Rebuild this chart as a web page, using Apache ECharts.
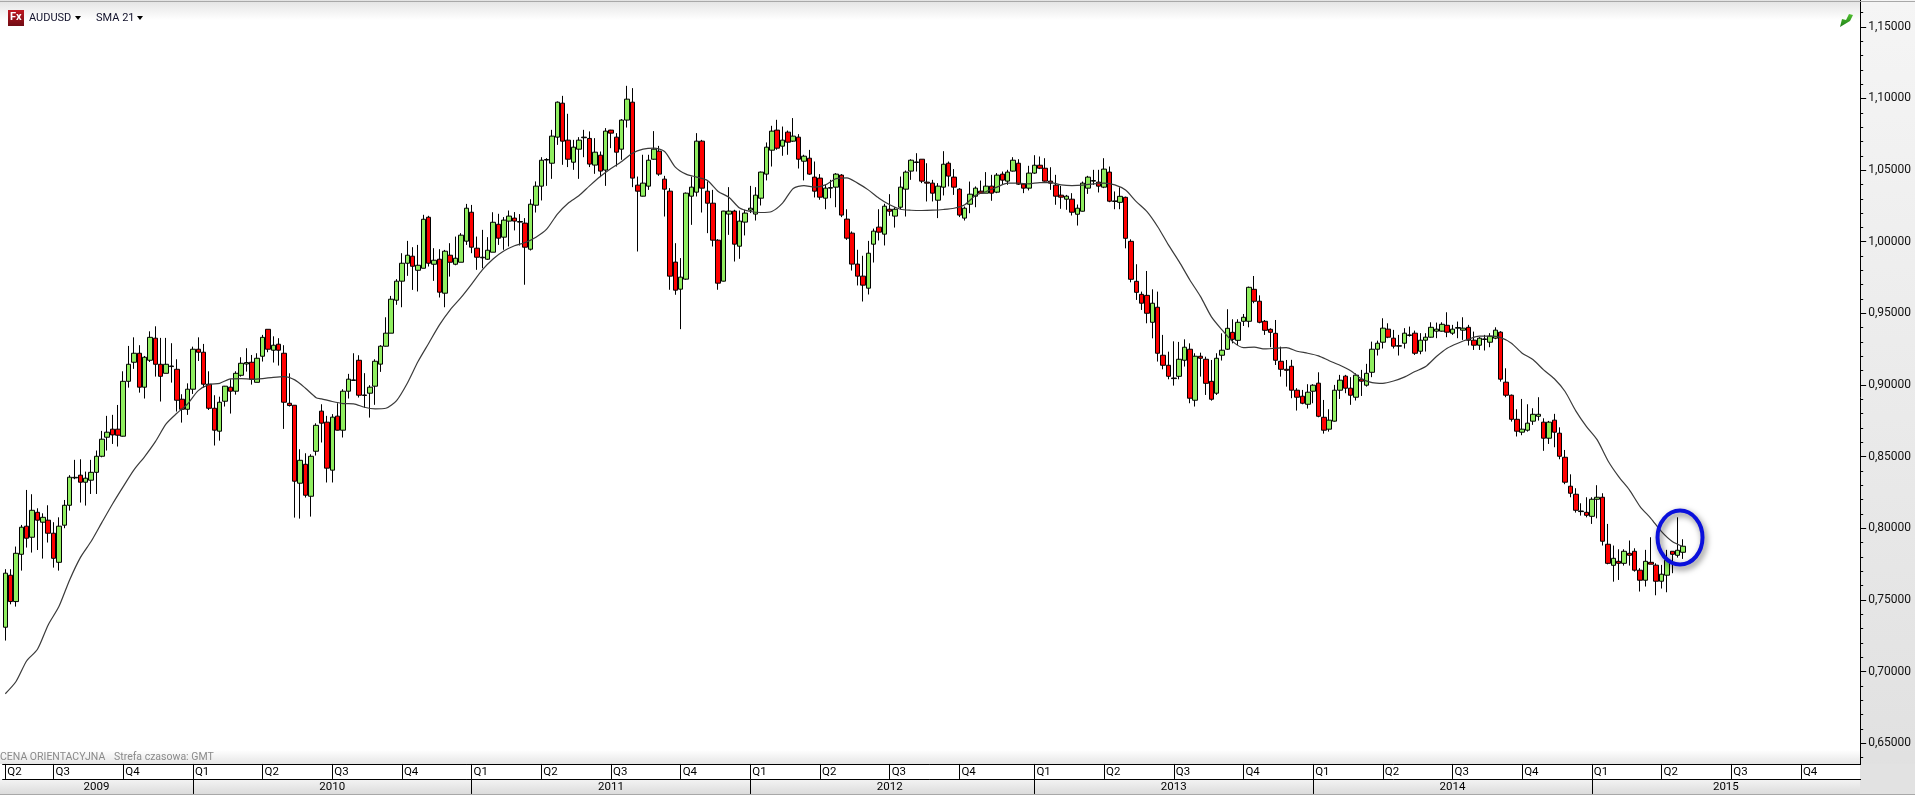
<!DOCTYPE html>
<html><head><meta charset="utf-8">
<style>html,body{margin:0;padding:0;background:#fff}#c{width:1915px;height:795px}</style>
<script src="https://cdn.jsdelivr.net/npm/echarts@6/dist/echarts.min.js"></script>
</head><body><div id="c"></div>
<script>
// AUD/USD weekly, price x 10000
const opens=[7310,7673,7489,7819,8015,7938,8112,8043,8057,7966,
7763,8022,8161,8352,8371,8322,8336,8391,8503,8636,
8692,8692,8643,9026,9159,9222,8985,9173,9327,9145,
9082,9129,9110,8901,8831,8971,9250,9229,9006,8838,
8678,8887,8985,8957,9068,9147,9159,9019,9201,9389,
9243,9285,9222,8873,8859,8315,8447,8224,8538,8818,
8741,8406,8783,8685,8957,9032,9173,8927,8943,8992,
9146,9271,9362,9592,9725,9850,9899,9801,9815,10171,
9843,9878,9641,9906,9843,9857,10004,10206,9955,9888,
9878,9927,10122,10032,10144,10165,10137,10130,9948,10255,
10388,10570,10548,10730,10967,10709,10555,10646,10726,10721,
10535,10604,10500,10779,10730,10646,10849,10974,10395,10318,
10388,10576,10632,10437,10353,9858,9669,9739,10318,10346,
10702,10353,10269,10011,9725,10193,10214,9969,10137,10221,
10193,10304,10472,10639,10779,10667,10765,10702,10730,10562,
10583,10451,10444,10304,10374,10381,10465,10158,10060,9844,
9760,9676,9983,10102,10053,10227,10179,10241,10367,10493,
10553,10576,10416,10409,10290,10381,10548,10451,10367,10165,
10262,10318,10353,10339,10388,10346,10472,10423,10493,10548,
10402,10374,10479,10534,10513,10423,10395,10325,10297,10297,
10192,10213,10374,10423,10416,10381,10486,10281,10275,10310,
10003,9724,9633,9626,9438,9543,9208,9138,9045,9061,
9173,9250,8894,9201,9180,9026,8943,9208,9250,9368,
9312,9445,9445,9668,9585,9445,9389,9361,9166,9110,
9131,8964,8922,8866,8957,9013,8775,8692,8748,8964,
9062,8978,8915,9041,8999,9089,9250,9299,9390,9327,
9271,9292,9346,9362,9236,9313,9334,9376,9376,9417,
9362,9397,9383,9403,9313,9278,9318,9299,9327,9369,
9020,8929,8761,8671,8685,8748,8782,8741,8629,8755,
8664,8496,8294,8238,8117,8112,8084,8203,8217,7889,
7742,7770,7756,7826,7840,7708,7638,7763,7743,7631,
7673,7840,7812,7833];
const closes=[7687,7489,7826,8008,7931,8126,8057,8077,7966,7791,
8015,8161,8357,8356,8322,8350,8391,8503,8622,8671,
8652,8650,9026,9145,9222,8985,9194,9333,9145,9061,
9145,9133,8894,8831,8971,9250,9229,9006,8838,8685,
8880,8992,8957,9082,9152,9157,9040,9187,9333,9250,
9278,9243,8880,8857,8329,8475,8231,8503,8719,8734,
8420,8776,8685,8957,9041,9036,8929,8931,8985,9166,
9271,9362,9599,9725,9850,9906,9829,9836,10157,9850,
9871,9648,9934,9857,9885,10046,10234,9962,9892,9892,
9941,10136,10025,10151,10179,10144,10141,9962,10262,10388,
10569,10574,10737,10974,10702,10576,10660,10709,10730,10542,
10625,10493,10772,10758,10625,10849,10995,10444,10353,10409,
10569,10646,10472,10367,9760,9662,9753,10339,10381,10702,
10374,10269,10011,9711,10214,10214,9983,10144,10200,10234,
10325,10486,10660,10772,10653,10709,10695,10737,10576,10597,
10472,10353,10311,10374,10378,10472,10186,10025,9844,9760,
9697,9920,10074,10067,10248,10213,10227,10381,10486,10569,
10557,10423,10409,10339,10388,10541,10458,10381,10186,10234,
10332,10374,10339,10388,10339,10465,10430,10486,10569,10402,
10374,10479,10534,10513,10423,10409,10318,10311,10318,10206,
10234,10409,10451,10427,10388,10507,10283,10285,10317,10024,
9738,9647,9571,9501,9571,9222,9138,9061,9049,9180,
9264,8908,9201,9187,9012,8901,9187,9243,9396,9319,
9438,9473,9682,9585,9438,9382,9368,9173,9110,9103,
8964,8915,8873,8950,8999,8782,8685,8755,8964,9034,
8978,8929,9069,9027,9082,9250,9292,9397,9334,9271,
9275,9362,9350,9222,9313,9334,9403,9390,9424,9369,
9390,9401,9397,9313,9278,9327,9322,9341,9383,9041,
8929,8761,8678,8692,8734,8796,8796,8629,8741,8671,
8503,8322,8245,8126,8121,8091,8203,8217,7910,7756,
7791,7756,7840,7812,7708,7638,7770,7750,7631,7680,
7777,7819,7847,7875];
const lows=[7217,7470,7454,7705,7866,7831,7849,7789,7901,7726,
7705,8001,8124,8343,8180,8159,8240,8240,8496,8543,
8589,8571,8640,8982,9113,8947,8906,9161,9059,8885,
9082,9017,8815,8738,8792,8938,9168,8982,8826,8578,
8612,8850,8801,8933,9059,9094,9003,9019,9164,9229,
9157,9136,8694,8850,8075,8068,8215,8082,8508,8599,
8320,8320,8683,8634,8906,9032,8913,8841,8773,8862,
9092,9269,9362,9560,9543,9762,9664,9653,9815,9827,
9727,9611,9543,9757,9836,9857,9978,9920,9804,9815,
9873,9927,9978,9944,9967,10079,9974,9700,9939,10204,
10288,10390,10439,10676,10537,10521,10502,10439,10590,10521,
10474,10451,10390,10653,10525,10572,10797,10381,9932,10316,
10362,10572,10460,10176,9665,9630,9390,9734,10118,10316,
10204,10060,9967,9665,9723,10048,9862,9881,10044,10200,
10148,10253,10428,10525,10642,10600,10607,10697,10511,10428,
10467,10309,10293,10227,10304,10241,10172,10013,9799,9695,
9583,9632,9855,10009,9974,10181,10099,10227,10176,10432,
10490,10409,10281,10281,10165,10323,10386,10327,10172,10148,
10199,10241,10339,10339,10286,10339,10397,10397,10490,10397,
10339,10358,10474,10507,10420,10362,10258,10230,10223,10183,
10113,10211,10334,10397,10344,10374,10276,10227,10227,9954,
9717,9594,9524,9431,9326,9164,9110,9040,8996,9040,
9129,8873,8850,9059,8931,8891,8931,9171,9245,9291,
9278,9412,9403,9571,9431,9350,9264,9140,9059,8989,
8908,8822,8866,8836,8873,8775,8661,8675,8745,8903,
8943,8862,8892,8924,8989,9055,9206,9255,9327,9255,
9206,9255,9338,9210,9215,9234,9331,9327,9373,9334,
9350,9327,9315,9276,9245,9245,9241,9264,9320,9024,
8915,8745,8641,8650,8675,8722,8752,8541,8589,8566,
8482,8308,8217,8110,8089,8077,8031,8070,7880,7749,
7628,7640,7740,7740,7698,7559,7594,7750,7533,7580,
7554,7687,7796,7787];
const highs=[7715,7715,7873,8024,8268,8238,8140,8105,8161,8043,
8077,8198,8371,8478,8482,8396,8478,8543,8680,8785,
8792,8861,9096,9273,9333,9278,9203,9375,9410,9329,
9329,9292,9180,8936,9012,9268,9333,9287,9096,8929,
8919,8994,9040,9096,9194,9257,9210,9222,9350,9389,
9340,9327,9278,9082,8859,8552,8524,8517,8733,8866,
8785,8797,8873,8971,9078,9222,9208,9083,8999,9180,
9278,9473,9622,9739,9920,10006,9962,9978,10188,10181,
9955,9948,9943,9990,10036,10060,10264,10257,10036,10083,
10032,10206,10195,10172,10218,10207,10193,10165,10297,10421,
10590,10583,10781,10979,11018,10893,10711,10730,10781,10770,
10723,10630,10793,10781,10758,10856,11088,11072,10455,10607,
10607,10772,10669,10460,10374,9990,9886,10344,10455,10758,
10711,10421,10362,10018,10216,10381,10223,10218,10223,10390,
10381,10490,10693,10809,10851,10804,10776,10863,10751,10607,
10641,10560,10472,10397,10432,10479,10472,10227,10072,9944,
9902,10006,10092,10227,10265,10332,10241,10455,10497,10576,
10618,10576,10548,10432,10409,10632,10560,10507,10374,10246,
10420,10386,10427,10486,10467,10479,10490,10502,10590,10576,
10409,10530,10604,10595,10583,10520,10467,10390,10327,10339,
10260,10420,10460,10502,10502,10583,10525,10351,10380,10315,
10017,9843,9652,9796,9668,9652,9350,9233,9305,9301,
9319,9291,9222,9226,9198,9175,9222,9361,9529,9459,
9459,9496,9687,9761,9626,9454,9396,9454,9268,9175,
9176,8978,8966,9006,9006,9089,8896,8831,9001,9071,
9071,9055,9082,9106,9148,9303,9310,9466,9431,9385,
9350,9397,9408,9380,9362,9362,9438,9436,9438,9508,
9420,9443,9473,9420,9373,9334,9350,9362,9403,9376,
9117,8934,8831,8903,8866,8838,8915,8768,8750,8799,
8705,8547,8377,8280,8175,8217,8217,8301,8245,8031,
7880,7854,7854,7915,7861,7722,7850,7938,7756,7745,
7850,7840,8077,7924];
// SMA 21: bar index and value
const smaBars=[0,2,4,6,8,10,12,14,16,18,20,22,24,26,28,30,32,34,36,38,40,42,44,46,48,50,52,54,56,58,
59,61,63,65,67,69,71,73,75,77,79,81,83,85,87,89,91,93,95,97,99,101,103,105,107,109,111,113,115,117,119,121,123,125,127,129,131,133,135,137,139,141,143,145,147,149,
151,153,155,157,159,161,163,165,167,169,171,173,175,177,179,181,183,185,187,189,191,193,195,197,199,201,203,205,207,
209,211,213,215,217,219,221,223,225,227,229,231,233,235,237,239,241,243,245,247,249,251,253,255,257,259,261,263,265,267,269,271,273,275,277,279,281,283,285,287,289,291,293,295,297,299,301,303,305,307,309,311,313];
const smaVals=[6846,6931,7076,7156,7326,7454,7640,7796,7908,8040,8170,8291,8408,8501,8605,8729,8803,8868,8961,9003,9012,9043,9045,9040,9045,9054,9059,9036,8978,8912,
8904,8885,8871,8869,8845,8834,8838,8892,9013,9164,9292,9420,9525,9610,9705,9804,9880,9935,9972,9995,10032,10088,10193,10269,10321,10390,10455,10511,10560,10618,10646,10653,10630,10521,10472,10451,10428,10351,10311,10235,10211,10204,10211,10269,10372,10392,
10381,10397,10441,10446,10409,10362,10304,10258,10227,10220,10218,10220,10225,10234,10258,10323,10351,10381,10409,10409,10404,10413,10413,10397,10392,10395,10404,10409,10397,
10361,10280,10210,10105,9978,9861,9733,9617,9478,9385,9303,9261,9264,9252,9257,9261,9236,9222,9204,9170,9138,9100,9044,9017,9012,9028,9055,9094,9129,9199,9257,9292,9320,9341,9341,9331,9292,9222,9178,9106,9044,8955,8820,8710,8617,8472,8361,8268,8152,8070,7977,7908,7873];
// Axis text
const yTickStep=0.05;
const quarterStarts=[0,9,22,35,48,61,74,87,100,113,126,139,152,165,178,192,205,218,231,244,257,270,283,296,309,322,335];
const quarterNames=['Q2','Q3','Q4','Q1','Q2','Q3','Q4','Q1','Q2','Q3','Q4','Q1','Q2','Q3','Q4','Q1','Q2','Q3','Q4','Q1','Q2','Q3','Q4','Q1','Q2','Q3','Q4'];
const yearStarts=[35,87,139,192,244,296];
const yearMids=[17,61,113,165,218,270,321];
const yearNames=['2009','2010','2011','2012','2013','2014','2015'];
const highlightBar=[312,0.7936];
const barCount=346;

const qCats=Array.from({length:barCount},(_,i)=>{const k=quarterStarts.indexOf(i);return k>=0?quarterNames[k]:'w'+i;});
const yCats=Array.from({length:barCount},(_,i)=>{const k=yearMids.indexOf(i);return k>=0?yearNames[k]:'w'+i;});
const ohlc=opens.map((o,i)=>[o/10000,closes[i]/10000,lows[i]/10000,highs[i]/10000]);
const sma=smaBars.map((b,i)=>[b,smaVals[i]/10000]);
const F='Roboto,"Liberation Sans",sans-serif';

const chart=echarts.init(document.getElementById('c'),null,{renderer:'canvas'});
function grad(a,b){return {type:'linear',x:0,y:0,x2:0,y2:1,colorStops:[{offset:0,color:a},{offset:1,color:b}]};}
chart.setOption({
 animation:false,
 backgroundColor:'#fff',
 grid:{left:2.62,width:1854.56,top:-44.85,height:859.8,containLabel:false,outerBoundsMode:'none'},
 xAxis:[
  {type:'category',data:qCats,position:'bottom',offset:-51,z:5,boundaryGap:true,
   axisLine:{show:true,lineStyle:{color:'#000',width:1}},
   axisTick:{show:true,alignWithLabel:true,length:15,interval:(i)=>quarterStarts.includes(i),lineStyle:{color:'#000',width:1}},
   axisLabel:{show:true,interval:(i)=>quarterStarts.includes(i),align:'left',margin:2,padding:[0,0,0,2],fontFamily:F,fontSize:11.5,color:'#000',hideOverlap:false,formatter:v=>v},
   splitLine:{show:false}},
  {type:'category',data:yCats,position:'bottom',offset:-36,z:5,boundaryGap:true,
   axisLine:{show:true,lineStyle:{color:'#000',width:1}},
   axisTick:{show:true,alignWithLabel:true,length:15,interval:(i)=>yearStarts.includes(i),lineStyle:{color:'#000',width:1}},
   axisLabel:{show:true,interval:(i)=>yearMids.includes(i),margin:2,fontFamily:F,fontSize:11.5,color:'#000',hideOverlap:false,formatter:v=>v},
   splitLine:{show:false}}
 ],
 yAxis:{type:'value',position:'right',offset:3,min:0.6,max:1.2,interval:yTickStep,z:1,
  axisLine:{show:true,onZero:false,lineStyle:{color:'#000',width:1}},
  axisTick:{show:true,length:6,lineStyle:{color:'#000',width:1}},
  minorTick:{show:true,splitNumber:5,length:3,lineStyle:{color:'#000',width:1}},
  axisLabel:{show:true,margin:8,fontFamily:F,fontSize:12,color:'#111',formatter:v=>v.toFixed(5).replace('.',','),showMinLabel:false,showMaxLabel:false},
  splitLine:{show:false},minorSplitLine:{show:false}},
 series:[
  {name:'AUDUSD',type:'candlestick',xAxisIndex:0,data:ohlc,barWidth:5,z:2,
   itemStyle:{color:'#90ee60',color0:'#ff0000',borderColor:'#000',borderColor0:'#000',borderColorDoji:'#000',borderWidth:1}},
  {name:'SMA 21',type:'line',xAxisIndex:0,data:sma,showSymbol:false,smooth:0.25,z:3,clip:false,
   lineStyle:{color:'#3a3a3a',width:1.2}},
  {name:'mark',type:'custom',xAxisIndex:0,data:[highlightBar],z:4,clip:false,silent:true,
   renderItem:(p,api)=>{const c=api.coord([api.value(0),api.value(1)]);
    return {type:'ellipse',shape:{cx:c[0]+2.4,cy:c[1],rx:22.5,ry:27},
     style:{fill:'none',stroke:'#0a10dc',lineWidth:4,shadowBlur:6,shadowColor:'rgba(0,0,0,0.55)',shadowOffsetX:2,shadowOffsetY:3}};}}
 ],
 graphic:{elements:[
  {type:'rect',z:-5,shape:{x:1860,y:0,width:55,height:795},style:{fill:grad('#f5f5f5','#e0e0e0')}},
  {type:'rect',z:-4,shape:{x:0,y:0,width:1860,height:20},style:{fill:grad('#e2e2e2','#ffffff')}},
  {type:'rect',z:3,shape:{x:0,y:750,width:1860,height:14},style:{fill:grad('#ffffff','#e6e6e6')}},
  {type:'rect',z:3,shape:{x:0,y:764,width:1860,height:15},style:{fill:'#fff'}},
  {type:'rect',z:3,shape:{x:0,y:779,width:1860,height:15},style:{fill:grad('#f4f4f4','#dcdcdc')}},
  {type:'rect',z:3,shape:{x:1860,y:764,width:55,height:31},style:{fill:'#e2e2e2'}},
  {type:'rect',z:6,shape:{x:1857,y:764,width:4,height:1},style:{fill:'#000'}},
  {type:'rect',z:6,shape:{x:1857,y:779,width:4,height:1},style:{fill:'#000'}},
  {type:'rect',z:6,shape:{x:0,y:794,width:1915,height:1},style:{fill:'#a8a8a8'}},
  {type:'rect',z:6,shape:{x:0,y:1,width:1915,height:1},style:{fill:'#a8a8a8'}},
  {type:'text',z:6,x:0,y:752,style:{text:'CENA ORIENTACYJNA',fill:'#8a8a8a',font:'10.5px '+F}},
  {type:'text',z:6,x:114,y:752,style:{text:'Strefa czasowa: GMT',fill:'#8a8a8a',font:'10.5px '+F}},
  {type:'rect',z:6,shape:{x:8,y:10,width:16,height:16},style:{fill:grad('#c01820','#700c14')}},
  {type:'text',z:7,x:10,y:12,style:{text:'Fx',fill:'#fff',font:'bold 11px '+F}},
  {type:'text',z:6,x:29,y:13,style:{text:'AUDUSD',fill:'#10102a',font:'11px '+F}},
  {type:'polygon',z:6,shape:{points:[[75,16],[81,16],[78,20]]},style:{fill:'#000'}},
  {type:'text',z:6,x:96,y:13,style:{text:'SMA 21',fill:'#10102a',font:'11px '+F}},
  {type:'polygon',z:6,shape:{points:[[137,16],[143,16],[140,20]]},style:{fill:'#000'}},
  {type:'polygon',z:6,shape:{points:[[1840,27],[1842,19],[1846,20],[1849,14],[1853,15],[1850,21],[1845,24]]},style:{fill:grad('#50c030','#208018')}}
 ]}
});
</script></body></html>
